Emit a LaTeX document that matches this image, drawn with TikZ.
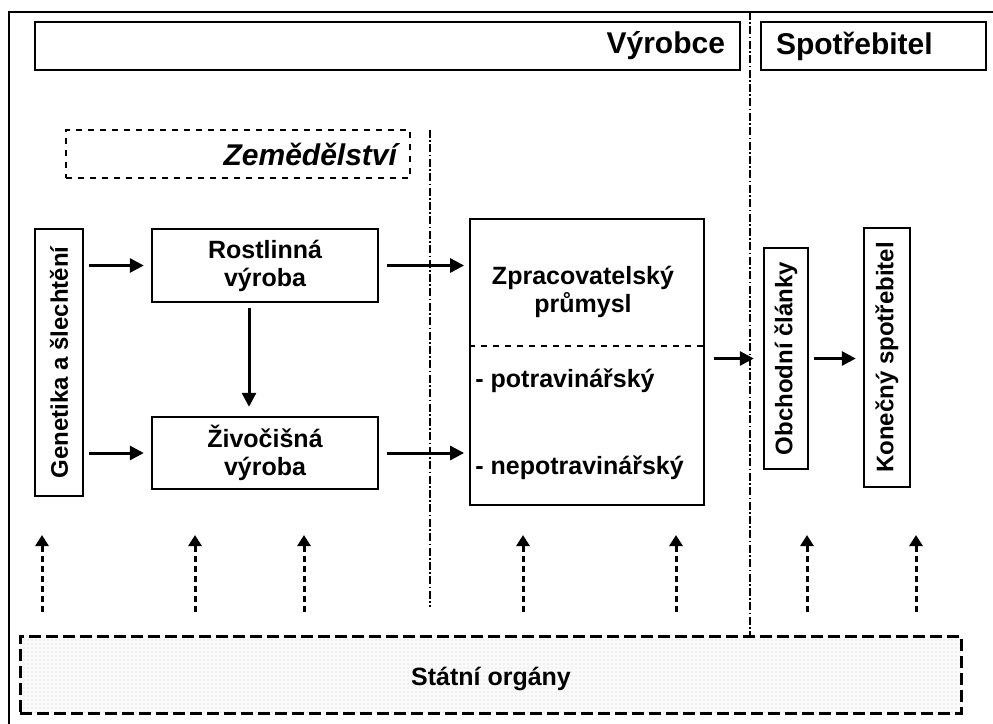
\documentclass[tikz,border=0pt]{standalone}
\usepackage{fontspec}
\setmainfont{Liberation Sans}
\usepackage{tikz}
\usetikzlibrary{arrows.meta,patterns.meta}

\begin{document}
\begin{tikzpicture}[x=0.5pt,y=-0.5pt,
    headbox/.style={draw,line width=1.4pt,minimum height=24pt,inner xsep=7.5pt,
                    font=\fontsize{15}{17}\selectfont\bfseries},
    box/.style={draw,line width=1.2pt,inner sep=0pt,align=center,
                font=\fontsize{12.5}{14}\selectfont\bfseries},
    vbox/.style={box,rotate=90,font=\fontsize{12}{14}\selectfont\bfseries},
    txt/.style={inner sep=0pt,align=center,font=\fontsize{12.5}{14}\selectfont\bfseries},
    flow/.style={-{Triangle[length=7pt,width=7pt]},line width=1.5pt},
    govarrow/.style={-{Triangle[length=5.5pt,width=6.5pt]},line width=1.5pt,
                     dash pattern=on 3pt off 2pt},
    divider/.style={line width=0.8pt,dash pattern=on 4pt off 1.2pt on 0.8pt off 1.2pt}]
    \useasboundingbox (0,0) rectangle (993,724);
    \draw[line width=0.8pt] (1000,12) -- (9,12) -- (9,730);
    \node[headbox,text width=337.5pt,align=right] (vyr) at (387.5,46) {Výrobce};
    \node[headbox,text width=97.5pt,align=left] (spo) at (873.5,46) {Spotřebitel};
    \node[draw,line width=1.2pt,dashed,minimum height=24pt,inner xsep=6.5pt,text width=159pt,
          align=right,font=\fontsize{15}{17}\selectfont\bfseries\itshape] (zem) at (238,154) {Zemědělství};
    \node[vbox,minimum width=133.5pt,minimum height=24pt] (gen) at (59,362.5) {Genetika a šlechtění};
    \node[box,minimum width=113pt,minimum height=36.5pt] (rost) at (265,265.5) {Rostlinná\\výroba};
    \node[box,minimum width=113pt,minimum height=36pt] (ziv) at (265,453) {Živočišná\\výroba};
    \node[box,line width=0.9pt,minimum width=117pt,minimum height=143pt] (zp) at (587,362) {};
    \node[txt] (zptxt) at (583,292) {Zpracovatelský\\průmysl};
    \node[txt,anchor=west] (potr) at (475,381) {- potravinářský};
    \node[txt,anchor=west] (nepotr) at (475,468) {- nepotravinářský};
    \draw[line width=0.9pt,dashed] ([yshift=8pt]zp.west) -- ([yshift=8pt]zp.east);
    \node[vbox,minimum width=110.5pt,minimum height=22pt] (obch) at (786,358.5) {Obchodní články};
    \node[vbox,minimum width=129.5pt,minimum height=23pt] (kon) at (887,357.5) {Konečný spotřebitel};
    \node[draw,line width=1.5pt,dash pattern=on 6pt off 2.5pt,minimum width=470.5pt,minimum height=38.5pt,
          preaction={fill=gray!4},pattern={Dots[distance=2pt,radius=0.35pt]},pattern color=gray!40,
          font=\fontsize{12.5}{14}\selectfont\bfseries] (stat) at (490.5,674.5) {};
    \node[txt] (stattxt) at (491,679) {Státní orgány};
    \coordinate (d1a) at (430,130);
    \coordinate (d1b) at (430,607);
    \coordinate (d2a) at (750,12);
    \draw[divider] (d1a) -- (d1b);
    \draw[divider] (d2a) -- (stat.north -| d2a);
    \draw[flow,shorten <=2.5pt,shorten >=3.5pt] (gen.south |- rost.west) -- (rost.west);
    \draw[flow,shorten <=2.5pt,shorten >=3.5pt] (gen.south |- ziv.west) -- (ziv.west);
    \draw[flow,shorten <=2.5pt,shorten >=4.5pt] ([xshift=-8pt]rost.south) -- ([xshift=-8pt]ziv.north);
    \draw[flow,shorten <=4pt,shorten >=2.5pt] (rost.east) -- (rost.east -| zp.west);
    \draw[flow,shorten <=4pt,shorten >=2.5pt] (ziv.east) -- (ziv.east -| zp.west);
    \draw[flow,shorten <=4.5pt,shorten >=4.5pt] (zp.east |- obch.north) -- (obch.north);
    \draw[flow,shorten <=2.5pt,shorten >=3.5pt] (obch.south) -- (obch.south -| kon.north);
    \foreach \x [count=\i] in {42,195,304,523,676,807,916}{
        \coordinate (up\i) at (\x,535);
        \draw[govarrow,shorten <=11.5pt] (stat.north -| up\i) -- (up\i);
    }
\end{tikzpicture}
\end{document}
